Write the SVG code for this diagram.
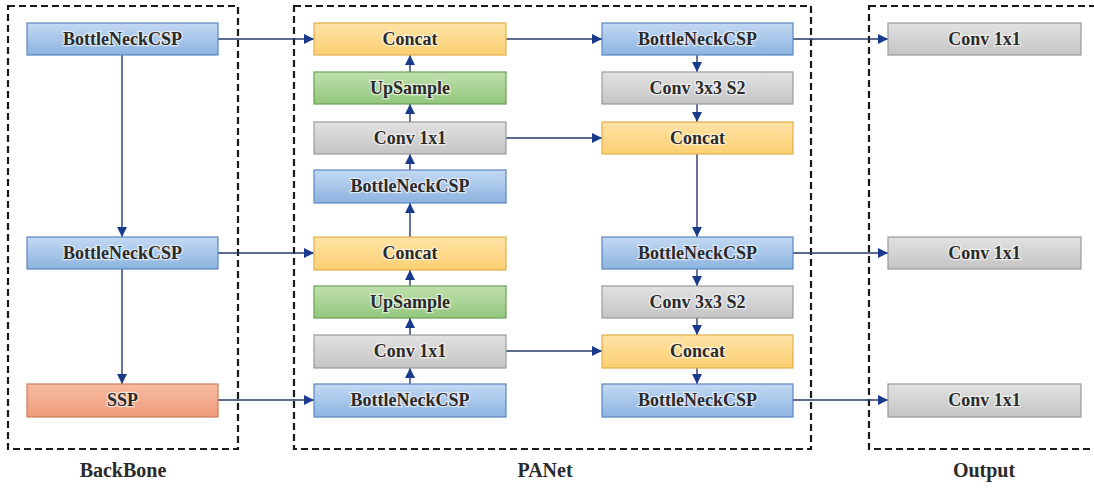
<svg xmlns="http://www.w3.org/2000/svg" width="1094" height="488" viewBox="0 0 1094 488">
<style>
.frame{fill:none;stroke:#1a1a1a;stroke-width:2.2;stroke-dasharray:7 4}
.box{stroke-width:1.2}
.blue{fill:url(#gBlue);stroke:#5b86c0}
.yel{fill:url(#gYel);stroke:#e0b04a}
.grn{fill:url(#gGrn);stroke:#6a9d55}
.gry{fill:url(#gGry);stroke:#9a9a9a}
.red{fill:url(#gRed);stroke:#cf7c5c}
.t{font-family:"Liberation Serif","DejaVu Serif",serif;font-size:18px;font-weight:bold;fill:#2a2a2a;text-anchor:middle;stroke:#ffffff;stroke-width:2.5;stroke-opacity:0.6;paint-order:stroke}
.lbl{font-family:"Liberation Serif","DejaVu Serif",serif;font-size:20px;font-weight:bold;fill:#2a2a2a;text-anchor:middle}
.c{fill:none;stroke:#26396b;stroke-width:1.4;marker-end:url(#ah)}
</style>
<defs>
<linearGradient id="gBlue" x1="0" y1="0" x2="0" y2="1"><stop offset="0" stop-color="#c3d9f2"/><stop offset="1" stop-color="#8cb3e0"/></linearGradient>
<linearGradient id="gYel" x1="0" y1="0" x2="0" y2="1"><stop offset="0" stop-color="#ffe3a6"/><stop offset="1" stop-color="#fccf72"/></linearGradient>
<linearGradient id="gGrn" x1="0" y1="0" x2="0" y2="1"><stop offset="0" stop-color="#bfe0ad"/><stop offset="1" stop-color="#93c77d"/></linearGradient>
<linearGradient id="gGry" x1="0" y1="0" x2="0" y2="1"><stop offset="0" stop-color="#e2e2e2"/><stop offset="1" stop-color="#c4c4c4"/></linearGradient>
<linearGradient id="gRed" x1="0" y1="0" x2="0" y2="1"><stop offset="0" stop-color="#f7bca2"/><stop offset="1" stop-color="#ef9b7a"/></linearGradient>
<marker id="ah" viewBox="0 0 10 10" refX="10" refY="5" markerWidth="10" markerHeight="10" orient="auto" markerUnits="userSpaceOnUse">
<path d="M0,0 L10,5 L0,10 z" fill="#1a3a8c"/>
</marker>
</defs>
<rect width="1094" height="488" fill="#ffffff"/>

<g id="frames">
<rect class="frame" x="8" y="6" width="230" height="443"/>
<rect class="frame" x="294" y="6" width="517" height="443"/>
<rect class="frame" x="869" y="6" width="230" height="443"/>
</g>

<g id="connectors">
<path class="c" d="M218,39 H314"/>
<path class="c" d="M122,55 V237"/>
<path class="c" d="M122,269 V384"/>
<path class="c" d="M218,253 H314"/>
<path class="c" d="M218,400 H314"/>
<path class="c" d="M410,384 V368"/>
<path class="c" d="M410,335 V318"/>
<path class="c" d="M410,286 V270"/>
<path class="c" d="M410,237 V203"/>
<path class="c" d="M410,170 V154"/>
<path class="c" d="M410,122 V104"/>
<path class="c" d="M410,72 V55"/>
<path class="c" d="M506,39 H602"/>
<path class="c" d="M506,138 H602"/>
<path class="c" d="M506,351 H602"/>
<path class="c" d="M697,55 V72"/>
<path class="c" d="M697,104 V122"/>
<path class="c" d="M697,154 V237"/>
<path class="c" d="M697,269 V286"/>
<path class="c" d="M697,318 V335"/>
<path class="c" d="M697,368 V384"/>
<path class="c" d="M793,39 H888"/>
<path class="c" d="M793,253 H888"/>
<path class="c" d="M793,400 H888"/>
</g>

<g id="bb_csp1"><rect class="box blue" x="27" y="23" width="191" height="32"/><text class="t" x="122.5" y="45">BottleNeckCSP</text></g>
<g id="bb_csp2"><rect class="box blue" x="27" y="237" width="191" height="32"/><text class="t" x="122.5" y="259">BottleNeckCSP</text></g>
<g id="bb_ssp"><rect class="box red" x="27" y="384" width="191" height="33"/><text class="t" x="122.5" y="406">SSP</text></g>

<g id="pl_concat1"><rect class="box yel" x="314" y="23" width="192" height="32"/><text class="t" x="410" y="45">Concat</text></g>
<g id="pl_up1"><rect class="box grn" x="314" y="72" width="192" height="32"/><text class="t" x="410" y="94">UpSample</text></g>
<g id="pl_conv1"><rect class="box gry" x="314" y="122" width="192" height="32"/><text class="t" x="410" y="144">Conv 1x1</text></g>
<g id="pl_csp1"><rect class="box blue" x="314" y="170" width="192" height="33"/><text class="t" x="410" y="192">BottleNeckCSP</text></g>
<g id="pl_concat2"><rect class="box yel" x="314" y="237" width="192" height="33"/><text class="t" x="410" y="259">Concat</text></g>
<g id="pl_up2"><rect class="box grn" x="314" y="286" width="192" height="32"/><text class="t" x="410" y="308">UpSample</text></g>
<g id="pl_conv2"><rect class="box gry" x="314" y="335" width="192" height="33"/><text class="t" x="410" y="357">Conv 1x1</text></g>
<g id="pl_csp2"><rect class="box blue" x="314" y="384" width="192" height="33"/><text class="t" x="410" y="406">BottleNeckCSP</text></g>

<g id="pr_csp1"><rect class="box blue" x="602" y="23" width="191" height="32"/><text class="t" x="697.5" y="45">BottleNeckCSP</text></g>
<g id="pr_conv1"><rect class="box gry" x="602" y="72" width="191" height="32"/><text class="t" x="697.5" y="94">Conv 3x3 S2</text></g>
<g id="pr_concat1"><rect class="box yel" x="602" y="122" width="191" height="32"/><text class="t" x="697.5" y="144">Concat</text></g>
<g id="pr_csp2"><rect class="box blue" x="602" y="237" width="191" height="32"/><text class="t" x="697.5" y="259">BottleNeckCSP</text></g>
<g id="pr_conv2"><rect class="box gry" x="602" y="286" width="191" height="32"/><text class="t" x="697.5" y="308">Conv 3x3 S2</text></g>
<g id="pr_concat2"><rect class="box yel" x="602" y="335" width="191" height="33"/><text class="t" x="697.5" y="357">Concat</text></g>
<g id="pr_csp3"><rect class="box blue" x="602" y="384" width="191" height="33"/><text class="t" x="697.5" y="406">BottleNeckCSP</text></g>

<g id="out1"><rect class="box gry" x="888" y="23" width="193" height="32"/><text class="t" x="984.5" y="45">Conv 1x1</text></g>
<g id="out2"><rect class="box gry" x="888" y="237" width="193" height="32"/><text class="t" x="984.5" y="259">Conv 1x1</text></g>
<g id="out3"><rect class="box gry" x="888" y="384" width="193" height="33"/><text class="t" x="984.5" y="406">Conv 1x1</text></g>

<g id="labels">
<text class="lbl" x="123" y="477">BackBone</text>
<text class="lbl" x="545" y="477">PANet</text>
<text class="lbl" x="984" y="477">Output</text>
</g>
</svg>
